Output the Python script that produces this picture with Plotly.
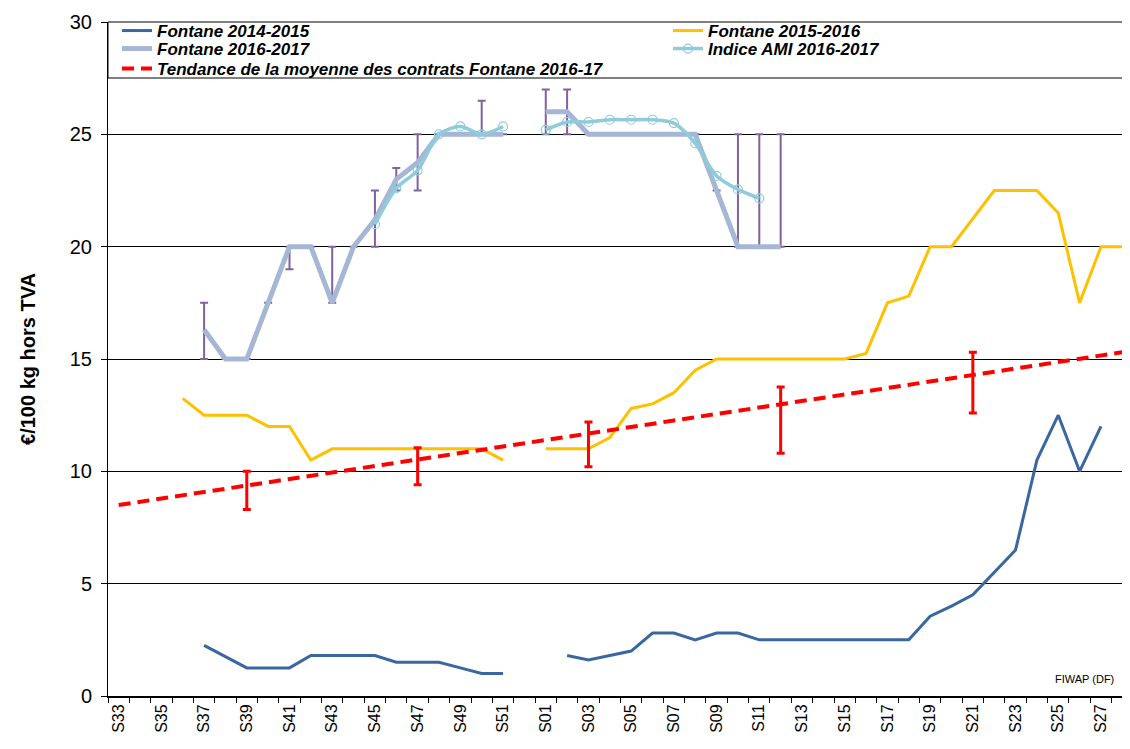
import plotly.graph_objects as go

# ---- categories (weeks) ----
weeks = [f"S{w}" for w in range(33, 53)] + [f"S{w:02d}" for w in range(1, 29)]
tick_labels = weeks[::2]

N = None
fontane_2014_2015 = [N, N, N, N, 2.25, 1.75, 1.25, 1.25, 1.25, 1.8, 1.8, 1.8, 1.8, 1.5, 1.5, 1.5, 1.25, 1.0, 1.0, N,
                     N, 1.8, 1.6, 1.8, 2.0, 2.8, 2.8, 2.5, 2.8, 2.8, 2.5, 2.5, 2.5, 2.5, 2.5, 2.5, 2.5, 2.5,
                     3.55, 4.0, 4.5, 5.5, 6.5, 10.5, 12.5, 10.0, 12.0, N]
fontane_2015_2016 = [N, N, N, 13.25, 12.5, 12.5, 12.5, 12.0, 12.0, 10.5, 11.0, 11.0, 11.0, 11.0, 11.0, 11.0, 11.0, 11.0, 10.5, N,
                     11.0, 11.0, 11.0, 11.5, 12.8, 13.0, 13.5, 14.5, 15.0, 15.0, 15.0, 15.0, 15.0, 15.0, 15.0, 15.25,
                     17.5, 17.8, 20.0, 20.0, 21.25, 22.5, 22.5, 22.5, 21.5, 17.5, 20.0, 20.0]
fontane_2016_2017 = [N, N, N, N, 16.3, 15.0, 15.0, 17.5, 20.0, 20.0, 17.5, 20.0, 21.2, 23.0, 23.75, 25.0, 25.0, 25.0, 25.0, N,
                     26.0, 26.0, 25.0, 25.0, 25.0, 25.0, 25.0, 25.0, 22.5, 20.0, 20.0, 20.0] + [N] * 16
# contract range (min / max) for Fontane 2016-2017
range_weeks = ["S37", "S40", "S41", "S43", "S45", "S46", "S47", "S50", "S01", "S02", "S10", "S11", "S12"]
range_min = [15.0, 17.5, 19.0, 17.5, 20.0, 22.5, 22.5, 25.0, 25.0, 25.0, 20.0, 20.0, 20.0]
range_max = [17.5, 17.5, 20.0, 20.0, 22.5, 23.5, 25.0, 26.5, 27.0, 27.0, 25.0, 25.0, 25.0]

indice_ami = [N] * 12 + [21.0, 22.6, 23.4, 25.0, 25.35, 25.0, 25.35, N,
                         25.2, 25.55, 25.55, 25.65, 25.65, 25.65, 25.5, 24.6, 23.15, 22.55, 22.15] + [N] * 17

# average of contracts (trend) with min/max
avg_weeks = ["S39", "S47", "S03", "S12", "S21"]
avg_values = [9.35, 10.55, 11.7, 13.0, 14.3]
avg_min = [8.3, 9.4, 10.2, 10.8, 12.6]
avg_max = [10.0, 11.05, 12.2, 13.75, 15.3]
trend_weeks = ["S33", "S28"]
trend_values = [8.5, 15.3]

pos = {w: i for i, w in enumerate(weeks)}
xi = [pos[w] for w in weeks]

# error arrays on 2016-2017 series
err_plus = [None] * len(weeks)
err_minus = [None] * len(weeks)
for w, lo, hi in zip(range_weeks, range_min, range_max):
    v = fontane_2016_2017[pos[w]]
    err_plus[pos[w]] = hi - v
    err_minus[pos[w]] = v - lo

leg_font = dict(family="Arial", size=17, color="black", weight="bold", style="italic")

fig = go.Figure()
fig.add_trace(go.Scatter(x=xi, y=fontane_2014_2015, mode="lines", name="Fontane 2014-2015", legend="legend",
                         line=dict(color="#3A67A0", width=3)))
fig.add_trace(go.Scatter(x=xi, y=fontane_2015_2016, mode="lines", name="Fontane 2015-2016", legend="legend2",
                         line=dict(color="#FFC000", width=3)))
fig.add_trace(go.Scatter(x=xi, y=fontane_2016_2017, mode="lines", name="Fontane 2016-2017", legend="legend3",
                         line=dict(color="#A6B7D6", width=5),
                         error_y=dict(type="data", symmetric=False, array=err_plus, arrayminus=err_minus,
                                      color="#7F62A0", thickness=2, width=4)))
fig.add_trace(go.Scatter(x=xi, y=indice_ami, mode="lines+markers", name="Indice AMI 2016-2017", legend="legend4",
                         line=dict(color="#8FCBDA", width=3.5, shape="spline", smoothing=0.8),
                         marker=dict(symbol="circle-open", size=9, color="#8FCBDA", line=dict(width=1.2))))
fig.add_trace(go.Scatter(x=[pos[w] for w in trend_weeks], y=trend_values, mode="lines", legend="legend5",
                         name="Tendance de la moyenne des contrats Fontane 2016-17",
                         line=dict(color="#FF0000", width=4, dash="12px,7px")))
fig.add_trace(go.Scatter(x=[pos[w] for w in avg_weeks], y=avg_values, mode="markers", showlegend=False,
                         marker=dict(size=1, opacity=0),
                         error_y=dict(type="data", symmetric=False,
                                      array=[h - v for h, v in zip(avg_max, avg_values)],
                                      arrayminus=[v - l for v, l in zip(avg_values, avg_min)],
                                      color="#FF0000", thickness=3, width=4)))

W, H = 1130, 749
ML, MR, MT, MB = 100, 5, 14, 61
plot_w = W - ML - MR
plot_h = H - MT - MB

leg_common = dict(orientation="v", xanchor="left", yanchor="middle", bgcolor="rgba(0,0,0,0)",
                  borderwidth=0, font=leg_font, itemwidth=30, tracegroupgap=0)
col_left = (109 - ML) / plot_w
col_right = (660 - ML) / plot_w
row_y = [1 - (23 - MT) / plot_h, 1 - (41 - MT) / plot_h, 1 - (61 - MT) / plot_h]

fig.update_layout(
    width=W, height=H,
    margin=dict(l=ML, r=MR, t=MT, b=MB),
    paper_bgcolor="white", plot_bgcolor="white",
    showlegend=True,
    legend=dict(x=col_left, y=row_y[0], **leg_common),
    legend2=dict(x=col_right, y=row_y[0], **leg_common),
    legend3=dict(x=col_left, y=row_y[1], **leg_common),
    legend4=dict(x=col_right, y=row_y[1], **leg_common),
    legend5=dict(x=col_left, y=row_y[2], **leg_common),
    shapes=[dict(type="rect", xref="paper", yref="paper", x0=0, x1=1.02, y0=1 - 56 / plot_h, y1=1,
                 fillcolor="white", line=dict(color="black", width=1), layer="above")],
    annotations=[dict(text="FIWAP (DF)", x=1, y=0, xref="paper", yref="paper", xanchor="right", yanchor="bottom",
                      xshift=-17, yshift=9, showarrow=False,
                      font=dict(family="Liberation Sans, Arial", size=11, color="black"))],
)
fig.update_xaxes(
    range=[-0.5, len(weeks) - 0.5], tickmode="array", tickvals=xi[::2], ticktext=tick_labels,
    tickangle=-90, ticks="", showgrid=False, zeroline=False,
    showline=True, linecolor="black", linewidth=2,
    tickfont=dict(family="Arial", size=16, color="black"),
    minor=dict(tickmode="array", tickvals=[i - 0.5 for i in range(len(weeks) + 1)],
               ticks="outside", ticklen=5, tickcolor="black", tickwidth=1, showgrid=False),
    automargin=False,
)
fig.update_yaxes(
    range=[0, 30], dtick=5, tick0=0, showgrid=True, gridcolor="black", gridwidth=1,
    zeroline=False, showline=True, linecolor="black", linewidth=1,
    ticks="outside", ticklen=6, tickcolor="black", ticklabelstandoff=5,
    tickfont=dict(family="Arial", size=20, color="black"),
    title=dict(text="€/100 kg hors TVA", font=dict(family="Arial", size=20, color="black", weight="bold"),
               standoff=28),
    automargin=False,
)

fig.write_html("out.html")
